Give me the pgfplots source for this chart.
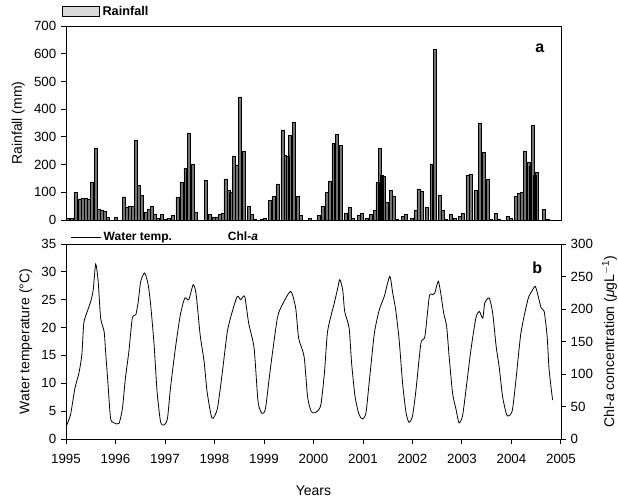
\documentclass[border=0pt]{standalone}
\usepackage{pgfplots}
\pgfplotsset{compat=1.18}
\usepackage{fontspec}
\setmainfont{Liberation Sans}

\pgfplotsset{
  panel/.style={
    scale only axis, width=371.25pt,
    xmin=1995, xmax=2005,
    tick align=outside, major tick length=3.75pt,
    axis line style={line width=0.7pt}, tick style={line width=0.7pt, black},
    /pgf/number format/assume math mode=true,
    /pgf/number format/1000 sep={},
    tick label style={font=\fontsize{10}{12}\selectfont},
    label style={font=\fontsize{10.5}{12}\selectfont},
  },
}

\begin{document}
\begin{tikzpicture}
\path[use as bounding box] (0pt,0pt) rectangle (463.5pt,372.75pt);

% (a) rainfall
\begin{axis}[panel,
  at={(49.5pt,207.75pt)}, anchor=south west, height=145.5pt,
  ymin=0, ymax=700, ytick={0,100,...,700}, xtick=\empty,
  tick pos=left,
  ylabel={Rainfall (mm)},
  legend style={at={(0,1)}, anchor=south west, draw=none, fill=none,
    inner sep=0pt, xshift=-3pt, yshift=4.5pt,
    font=\bfseries\fontsize{9.5}{10}\selectfont},
  legend image code/.code={\draw[black, line width=0.5pt, fill=gray!30] (0pt,-3.75pt) rectangle (27.75pt,3.75pt);},
]
\addplot[ybar, bar shift=0pt, bar width=0.06, fill=black!55, draw=black, line width=0.45pt]
coordinates {
(1995.03,5)(1995.11,5)(1995.19,100)(1995.27,76)(1995.33,78)(1995.40,80)(1995.47,75)
(1995.53,136)(1995.60,258)(1995.67,38)(1995.73,34)(1995.79,30)(1995.85,8)(1996.00,10)
(1996.17,83)(1996.23,45)(1996.29,48)(1996.35,50)(1996.41,287)(1996.47,126)(1996.54,90)
(1996.61,26)(1996.67,38)(1996.73,50)(1996.79,22)(1996.86,6)(1996.94,20)
(1997.01,4)(1997.08,6)(1997.16,18)(1997.25,82)(1997.33,136)(1997.41,187)(1997.48,314)
(1997.56,200)(1997.63,28)(1997.82,144)(1997.90,20)(1997.98,11)
(1998.05,11)(1998.11,20)(1998.17,24)(1998.22,148)(1998.29,108)(1998.33,100)(1998.39,231)
(1998.45,199)(1998.52,444)(1998.60,249)(1998.70,50)(1998.76,20)(1998.82,4)(1998.96,4)
(1999.02,6)(1999.12,72)(1999.19,84)(1999.27,130)(1999.37,325)(1999.43,232)(1999.48,229)
(1999.53,305)(1999.61,352)(1999.68,84)(1999.75,16)(1999.93,6)
(2000.10,16)(2000.18,50)(2000.27,100)(2000.33,138)(2000.40,277)(2000.47,308)(2000.55,268)
(2000.65,24)(2000.73,45)(2000.79,6)(2000.91,16)(2000.97,24)
(2001.07,6)(2001.16,19)(2001.24,36)(2001.29,136)(2001.34,257)(2001.38,160)(2001.42,156)
(2001.49,63)(2001.56,106)(2001.63,84)(2001.69,3)(2001.81,14)(2001.87,22)(2001.98,6)
(2002.06,34)(2002.12,112)(2002.19,105)(2002.28,45)(2002.38,200)(2002.46,616)(2002.55,90)
(2002.61,34)(2002.68,3)(2002.78,20)(2002.85,5)(2002.95,12)
(2003.02,24)(2003.11,162)(2003.18,166)(2003.27,108)(2003.36,350)(2003.45,244)(2003.52,147)
(2003.59,3)(2003.69,24)(2003.75,4)(2003.92,12)(2003.99,6)
(2004.09,84)(2004.15,97)(2004.21,100)(2004.27,249)(2004.34,208)(2004.38,193)(2004.44,342)
(2004.48,160)(2004.52,172)(2004.66,38)(2004.74,4)
};
\addlegendentry{Rainfall}
\node[font=\bfseries\fontsize{12}{12}\selectfont] at (rel axis cs:0.957,0.887) {a};
\end{axis}

% (b) water temperature
\begin{axis}[panel,
  at={(49.5pt,43.5pt)}, anchor=south west, height=146.25pt,
  ymin=0, ymax=35, ytick={0,5,...,35}, xtick={1995,...,2005},
  tick pos=left,
  xlabel={Years}, ylabel={Water temperature (°C)},
  xticklabel style={yshift=-4pt},
  xlabel style={yshift=-10pt},
  legend style={at={(0,1)}, anchor=south west, draw=none, fill=none,
    inner sep=0pt, xshift=3pt, yshift=-1pt, legend columns=2,
    /tikz/every even column/.append style={column sep=38pt},
    font=\bfseries\fontsize{9}{10}\selectfont},
  legend image code/.code={\draw[#1] (0pt,0pt) -- (22.5pt,0pt);},
]
\addplot[black, line width=0.6pt, smooth, tension=0.4] coordinates {
(1995.00,2.2)(1995.09,4.3)(1995.18,9.1)(1995.26,11.8)(1995.32,15.1)(1995.36,20.8)(1995.43,22.9)
(1995.50,24.7)(1995.55,26.8)(1995.60,31.4)(1995.65,28.3)(1995.70,21.7)(1995.77,19.3)(1995.80,15.7)
(1995.85,9.7)(1995.90,3.7)(1995.97,2.9)(1996.07,2.8)(1996.14,5.5)(1996.20,10.9)(1996.27,15.7)
(1996.34,21.7)(1996.41,22.3)(1996.46,24.7)(1996.51,28.3)(1996.59,29.8)(1996.66,27.7)(1996.71,24.1)
(1996.78,16.9)(1996.84,8.5)(1996.91,3.1)(1996.98,2.5)(1997.05,3.7)(1997.11,9.1)(1997.21,16.3)
(1997.31,22.3)(1997.40,25.3)(1997.48,25.0)(1997.57,27.7)(1997.63,25.9)(1997.71,18.7)(1997.79,13.9)
(1997.85,8.5)(1997.93,4.3)(1997.97,3.7)(1998.06,5.5)(1998.16,12.1)(1998.26,19.3)(1998.36,22.9)
(1998.46,25.6)(1998.53,25.0)(1998.61,25.6)(1998.69,20.8)(1998.80,16.3)(1998.88,6.7)(1998.96,4.6)
(1999.03,5.5)(1999.13,12.7)(1999.27,21.7)(1999.37,24.1)(1999.54,26.5)(1999.64,23.5)(1999.70,18.1)
(1999.81,14.8)(1999.88,7.6)(1999.95,5.0)(2000.01,4.7)(2000.08,5.0)(2000.15,6.2)(2000.22,11.8)
(2000.28,19.0)(2000.35,22.0)(2000.42,24.4)(2000.49,27.1)(2000.53,28.6)(2000.59,26.8)(2000.63,22.9)
(2000.72,19.9)(2000.77,13.6)(2000.84,7.6)(2000.92,4.4)(2000.99,3.6)(2001.06,4.7)(2001.13,10.6)
(2001.23,19.0)(2001.33,23.2)(2001.43,25.6)(2001.54,29.2)(2001.60,26.2)(2001.66,23.2)(2001.73,17.8)
(2001.80,10.0)(2001.87,4.7)(2001.93,3.0)(2002.00,4.1)(2002.07,8.8)(2002.17,17.2)(2002.25,18.4)
(2002.34,25.6)(2002.41,25.9)(2002.45,26.2)(2002.52,28.3)(2002.57,26.2)(2002.63,22.6)(2002.69,20.2)
(2002.74,14.8)(2002.81,8.2)(2002.88,5.3)(2002.94,2.9)(2003.01,4.1)(2003.08,8.8)(2003.18,16.0)
(2003.28,21.7)(2003.35,22.9)(2003.42,21.7)(2003.46,24.4)(2003.55,25.3)(2003.62,22.6)(2003.69,16.6)
(2003.75,13.0)(2003.82,7.6)(2003.90,4.4)(2003.96,4.2)(2004.02,5.3)(2004.09,10.6)(2004.19,19.0)
(2004.33,25.0)(2004.41,26.5)(2004.48,27.4)(2004.54,25.6)(2004.60,23.5)(2004.66,22.9)(2004.72,18.4)
(2004.76,12.4)(2004.83,7.0)
};
\addlegendentry{Water temp.}
\addlegendimage{empty legend}
\addlegendentry{Chl-\textit{a}}
\node[font=\bfseries\fontsize{12}{12}\selectfont] at (rel axis cs:0.952,0.877) {b};
\end{axis}

% (b) right axis, Chl-a
\begin{axis}[panel,
  at={(49.5pt,43.5pt)}, anchor=south west, height=146.25pt,
  ymin=0, ymax=300, ytick={0,50,...,300},
  axis y line*=right, axis x line=none,
  ylabel={Chl-\textit{a} concentration (\textit{μ}gL\textsuperscript{$-$1})},
]
\addplot[draw=none, forget plot] coordinates {(1995,0)(2005,0)};
\end{axis}
\end{tikzpicture}
\end{document}
